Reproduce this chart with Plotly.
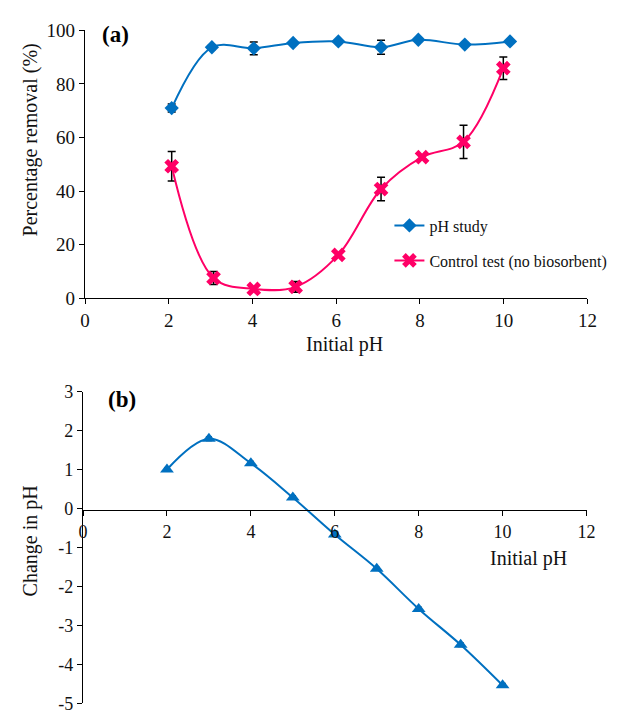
import plotly.graph_objects as go

# Panel (a)
ph_a_blue = [2.07, 3.03, 4.03, 4.97, 6.05, 7.07, 7.96, 9.07, 10.15]
removal_blue = [71.0, 93.7, 93.3, 95.3, 95.9, 93.7, 96.5, 94.7, 95.9]
err_blue = [1.5, 0.8, 2.4, 0.6, 0.5, 2.6, 0.6, 0.6, 0.6]

ph_a_pink = [2.07, 3.07, 4.03, 5.03, 6.05, 7.07, 8.05, 9.04, 9.99]
removal_pink = [49.3, 7.6, 3.5, 4.3, 16.2, 40.8, 52.7, 58.4, 85.9]
err_pink = [5.5, 2.4, 0.8, 2.0, 0.8, 4.4, 0.8, 6.2, 4.2]

# Panel (b)
ph_b = [2, 3, 4, 5, 6, 7, 8, 9, 10]
delta_ph = [1.0, 1.79, 1.16, 0.28, -0.67, -1.55, -2.58, -3.5, -4.54]
err_b = [0.04, 0.05, 0.05, 0.05, 0.04, 0.04, 0.05, 0.05, 0.05]

x_ticks = [0, 2, 4, 6, 8, 10, 12]
ya_ticks = [0, 20, 40, 60, 80, 100]
yb_ticks = [3, 2, 1, 0, -1, -2, -3, -4, -5]
yb_labels = ["3", "2", "1", "0", "-1", "-2", "-3", "-4", "-5"]

FONT = "Liberation Serif"
BLUE = "#0070C0"
PINK = "#FF0066"
W, H = 617, 721


def px(x):
    return x / W


def py(y):
    return (H - y) / H


fig = go.Figure()

fig.add_trace(go.Scatter(
    x=ph_a_blue, y=removal_blue, name="pH study", mode="lines+markers",
    line=dict(color=BLUE, width=2, shape="spline", smoothing=1),
    marker=dict(symbol="diamond", size=11, color=BLUE),
    error_y=dict(type="data", array=err_blue, color="black", thickness=1.5, width=4),
    xaxis="x", yaxis="y", legend="legend"))

fig.add_trace(go.Scatter(
    x=ph_a_pink, y=removal_pink, name="Control test (no biosorbent)", mode="lines+markers",
    line=dict(color=PINK, width=2, shape="spline", smoothing=1),
    marker=dict(symbol="x", size=13, color=PINK),
    error_y=dict(type="data", array=err_pink, color="black", thickness=1.5, width=4),
    xaxis="x", yaxis="y", legend="legend2"))

fig.add_trace(go.Scatter(
    x=ph_b, y=delta_ph, mode="lines+markers", showlegend=False,
    line=dict(color=BLUE, width=2, shape="spline", smoothing=1),
    marker=dict(symbol="triangle-up", size=12, color=BLUE),
    error_y=dict(type="data", array=err_b, color="black", thickness=1.2, width=3),
    xaxis="x2", yaxis="y2"))


def axis_common(size):
    return dict(showgrid=False, zeroline=False, showline=True, linecolor="black",
                linewidth=1.3, ticks="outside", ticklen=5, tickcolor="black",
                tickfont=dict(family=FONT, size=size, color="#111"))


fig.update_layout(
    width=W, height=H, margin=dict(l=0, r=0, t=0, b=0),
    paper_bgcolor="white", plot_bgcolor="white",
    xaxis=dict(domain=[px(82), px(597)], range=[0, 12], tickvals=x_ticks, anchor="y",
               **axis_common(19)),
    yaxis=dict(domain=[py(297), py(21)], range=[0, 100], tickvals=ya_ticks, anchor="x",
               **axis_common(19)),
    xaxis2=dict(domain=[px(80), px(596)], range=[0, 12], tickvals=x_ticks, anchor="free",
                position=py(515), **axis_common(18)),
    yaxis2=dict(domain=[py(714), py(393)], range=[-5, 3], tickvals=yb_ticks,
                ticktext=yb_labels, anchor="x2", **axis_common(18)),
    legend=dict(x=px(394), y=py(222), xanchor="left", yanchor="middle",
                font=dict(family=FONT, size=16, color="#111"), bgcolor="rgba(0,0,0,0)"),
    legend2=dict(x=px(394), y=py(258), xanchor="left", yanchor="middle",
                 font=dict(family=FONT, size=16, color="#111"), bgcolor="rgba(0,0,0,0)"),
    annotations=[
        dict(text="<b>(a)</b>", x=px(97), y=py(25), xref="paper", yref="paper",
             xanchor="left", yanchor="middle", showarrow=False,
             font=dict(family=FONT, size=23, color="black")),
        dict(text="<b>(b)</b>", x=px(104), y=py(401), xref="paper", yref="paper",
             xanchor="left", yanchor="middle", showarrow=False,
             font=dict(family=FONT, size=23, color="black")),
        dict(text="Percentage removal (%)", x=px(26), y=py(134), xref="paper", yref="paper",
             xanchor="center", yanchor="middle", textangle=-90, showarrow=False,
             font=dict(family=FONT, size=20, color="#111")),
        dict(text="Initial pH", x=px(348), y=py(345), xref="paper", yref="paper",
             xanchor="center", yanchor="middle", showarrow=False,
             font=dict(family=FONT, size=20, color="#111")),
        dict(text="Change in pH", x=px(26), y=py(547), xref="paper", yref="paper",
             xanchor="center", yanchor="middle", textangle=-90, showarrow=False,
             font=dict(family=FONT, size=20, color="#111")),
        dict(text="Initial pH", x=px(537), y=py(565), xref="paper", yref="paper",
             xanchor="center", yanchor="middle", showarrow=False,
             font=dict(family=FONT, size=20, color="#111")),
    ],
)

fig.write_html("out.html")
